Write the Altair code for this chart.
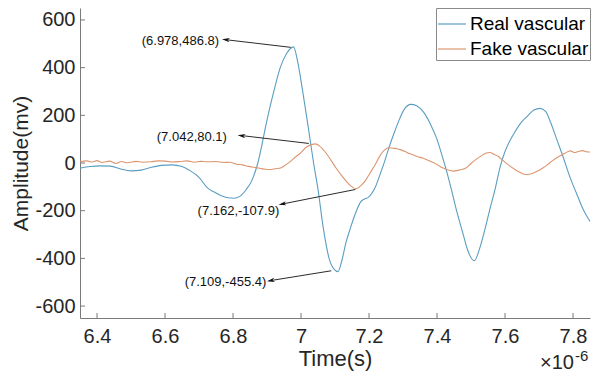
import math
import altair as alt
import pandas as pd

# ---------------- data ----------------
real_t = [6.35, 6.38, 6.41, 6.44, 6.47, 6.50, 6.53, 6.56, 6.59, 6.62, 6.65, 6.67,
          6.70, 6.724, 6.745, 6.764, 6.785, 6.802, 6.82, 6.839, 6.855, 6.873, 6.90,
          6.92, 6.939, 6.958, 6.978, 6.991, 7.005, 7.022, 7.037, 7.05, 7.065, 7.083,
          7.097, 7.109, 7.12, 7.132, 7.146, 7.160, 7.175, 7.188, 7.198, 7.208, 7.218,
          7.232, 7.246, 7.26, 7.275, 7.29, 7.304, 7.323, 7.34, 7.361, 7.38, 7.399,
          7.413, 7.428, 7.443, 7.457, 7.476, 7.49, 7.51, 7.525, 7.543, 7.557, 7.572,
          7.585, 7.600, 7.615, 7.629, 7.645, 7.667, 7.685, 7.703, 7.72, 7.734, 7.752,
          7.772, 7.79, 7.811, 7.83, 7.85]
real_v = [-22, -15, -12, -13, -25, -33, -30, -18, -10, -8, -15, -29,
          -60, -103, -122, -136, -146, -148, -140, -111, -75, 0, 180,
          300, 400, 460, 486.8, 419, 300, 144, 0, -110, -267, -402,
          -445, -455.4, -410, -335, -270, -212, -164, -150, -144, -128, -103,
          -50, 7, 70, 130, 185, 226, 246, 240, 212, 165, 103,
          40, -33, -115, -197, -294, -365, -410, -360, -267, -185, -103,
          -20, 48, 95, 130, 165, 198, 222, 229, 215, 171, 100,
          21, -55, -130, -195, -245]

fake_t = [6.35, 6.37, 6.386, 6.40, 6.414, 6.437, 6.455, 6.472, 6.49, 6.515, 6.535,
          6.558, 6.58, 6.601, 6.62, 6.644, 6.665, 6.687, 6.705, 6.724, 6.75, 6.773,
          6.79, 6.810, 6.828, 6.845, 6.862, 6.879, 6.895, 6.912, 6.925, 6.940, 6.955,
          6.969, 6.984, 6.998, 7.017, 7.042, 7.054, 7.074, 7.088, 7.103, 7.118, 7.132,
          7.146, 7.162, 7.175, 7.189, 7.203, 7.218, 7.232, 7.246, 7.258, 7.270, 7.282,
          7.294, 7.306, 7.318, 7.330, 7.342, 7.360, 7.380, 7.392, 7.404, 7.416, 7.428,
          7.447, 7.464, 7.485, 7.50, 7.514, 7.53, 7.543, 7.555, 7.567, 7.580, 7.591,
          7.610, 7.629, 7.645, 7.662, 7.680, 7.696, 7.710, 7.725, 7.740, 7.757, 7.776,
          7.792, 7.805, 7.815, 7.828, 7.840, 7.85]
fake_v = [5, 9, 4, 10, 2, 8, -2, 6, 1, 7, 3,
          5, 9, 8, 4, 6, 9, 3, 7, 5, 6, 2,
          3, -5, -8, -14, -18, -22, -26, -27, -24, -21, -8,
          7, 25, 41, 68, 80.1, 72, 41, 12, -21, -50, -75,
          -96, -107.9, -96, -75, -42, -7, 30, 55, 64, 62, 60,
          55, 48, 40, 34, 27, 20, 7, 0, -10, -20, -27,
          -34, -30, -21, -2, 14, 30, 41, 44, 37, 28, 14,
          -8, -27, -40, -48, -44, -34, -22, -7, 10, 26, 41,
          51, 44, 48, 52, 47, 46]

series_names = ["Real vascular", "Fake vascular"]
series_colors = ["#5a9dc2", "#dc956f"]

x_ticks = [6.4, 6.6, 6.8, 7.0, 7.2, 7.4, 7.6, 7.8]
y_ticks = [-600, -400, -200, 0, 200, 400, 600]

ann_labels = ["(6.978,486.8)", "(7.042,80.1)", "(7.162,-107.9)", "(7.109,-455.4)"]
ann_text_x = [6.759, 6.782, 6.936, 6.898]
ann_text_y = [513, 111, -201, -497]
arrow_tip_x = [6.779, 6.825, 6.945, 6.911]
arrow_tip_y = [517, 115, -172, -493]
arrow_tail_x = [6.970, 7.023, 7.160, 7.089]
arrow_tail_y = [485, 82, -111, -452]

# ---------------- layout ----------------
W, H = 510, 310
XD = [6.35, 7.85]
YD = [-650, 650]
FONT = "Liberation Sans"
AXIS_GRAY = "#7a7a7a"

sx = W / (XD[1] - XD[0])
sy = H / (YD[1] - YD[0])
angles = []
for tx, ty, bx, by in zip(arrow_tip_x, arrow_tip_y, arrow_tail_x, arrow_tail_y):
    dx = (tx - bx) * sx
    dy = -(ty - by) * sy
    angles.append(math.degrees(math.atan2(-dy, -dx)) % 360)

real_df = pd.DataFrame({"t": real_t, "v": real_v, "series": series_names[0]})
fake_df = pd.DataFrame({"t": fake_t, "v": fake_v, "series": series_names[1]})
ann_df = pd.DataFrame({
    "label": ann_labels, "tx": ann_text_x, "ty": ann_text_y,
    "ax": arrow_tip_x, "ay": arrow_tip_y, "bx": arrow_tail_x, "by": arrow_tail_y,
    "angle": angles,
})
xt_df = pd.DataFrame({"t": x_ticks})
yt_df = pd.DataFrame({"v": y_ticks})

xscale = alt.Scale(domain=XD, nice=False, zero=False)
yscale = alt.Scale(domain=YD, nice=False, zero=False)
cscale = alt.Scale(domain=series_names, range=series_colors)

x_axis = alt.Axis(values=x_ticks, labelExpr="'' + datum.value", ticks=False, grid=False,
                  title="Time(s)", labelPadding=8, titlePadding=2, labelFlush=False)
y_axis = alt.Axis(values=y_ticks, labelExpr="'' + datum.value", ticks=False, grid=False,
                  title="Amplitude(mv)", labelPadding=5, titlePadding=3,
                  titleFontSize=21)

legend = alt.Legend(title=None, orient="top-right", offset=0, padding=1,
                    strokeColor="#8a8a8a", fillColor="white", symbolType="stroke",
                    symbolSize=784, symbolStrokeWidth=1.2, labelFontSize=19,
                    labelFont=FONT, labelColor="black", labelOffset=3, rowPadding=-7)

real_line = alt.Chart(real_df).mark_line(strokeWidth=1.1, interpolate="monotone").encode(
    x=alt.X("t:Q", scale=xscale, axis=x_axis),
    y=alt.Y("v:Q", scale=yscale, axis=y_axis),
    color=alt.Color("series:N", scale=cscale, legend=legend),
)
fake_line = alt.Chart(fake_df).mark_line(strokeWidth=1.1, interpolate="monotone").encode(
    x=alt.X("t:Q", scale=xscale),
    y=alt.Y("v:Q", scale=yscale),
    color=alt.Color("series:N", scale=cscale, legend=legend),
)

arrow_lines = alt.Chart(ann_df).mark_rule(color="#2b2b2b", strokeWidth=1).encode(
    x=alt.X("bx:Q", scale=xscale), y=alt.Y("by:Q", scale=yscale),
    x2="ax:Q", y2="ay:Q",
)
arrow_heads = alt.Chart(ann_df).mark_point(
    shape="M-1,0L1,-0.55L0.45,0L1,0.55Z", filled=True, color="#111", size=60, opacity=1
).encode(
    x=alt.X("ax:Q", scale=xscale), y=alt.Y("ay:Q", scale=yscale),
    angle=alt.Angle("angle:Q", scale=None),
)
ann_texts = alt.Chart(ann_df).mark_text(
    align="right", baseline="middle", font=FONT, fontSize=13, color="#111"
).encode(
    x=alt.X("tx:Q", scale=xscale), y=alt.Y("ty:Q", scale=yscale), text="label:N",
)

x_tick_marks = alt.Chart(xt_df).mark_rule(color=AXIS_GRAY, strokeWidth=1).encode(
    x=alt.X("t:Q", scale=xscale), y=alt.value(H), y2=alt.value(H - 5),
)
y_tick_marks = alt.Chart(yt_df).mark_rule(color=AXIS_GRAY, strokeWidth=1).encode(
    y=alt.Y("v:Q", scale=yscale), x=alt.value(0), x2=alt.value(5),
)

exp_base = alt.Chart(pd.DataFrame({"s": ["\u00d710"]})).mark_text(
    align="right", baseline="alphabetic", font=FONT, fontSize=20, color="#262626"
).encode(x=alt.value(W - 16), y=alt.value(H + 51), text="s:N")
exp_pow = alt.Chart(pd.DataFrame({"s": ["-6"]})).mark_text(
    align="left", baseline="alphabetic", font=FONT, fontSize=15, color="#262626"
).encode(x=alt.value(W - 15), y=alt.value(H + 43), text="s:N")

chart = alt.layer(
    real_line, fake_line, arrow_lines, arrow_heads, ann_texts,
    x_tick_marks, y_tick_marks, exp_base, exp_pow,
).properties(
    width=W, height=H,
    autosize=alt.AutoSizeParams(type="none"),
    padding={"left": 72, "top": 0, "right": 2, "bottom": 57},
).configure_view(stroke=None).configure_axis(
    labelFont=FONT, labelFontSize=20, labelColor="#262626",
    titleFont=FONT, titleFontSize=22, titleFontWeight="normal", titleColor="#262626",
    domainColor=AXIS_GRAY, domainWidth=1,
).configure_legend(
    strokeColor="#8a8a8a",
)

chart.save("out.html", embed_options={"renderer": "svg", "actions": False})
